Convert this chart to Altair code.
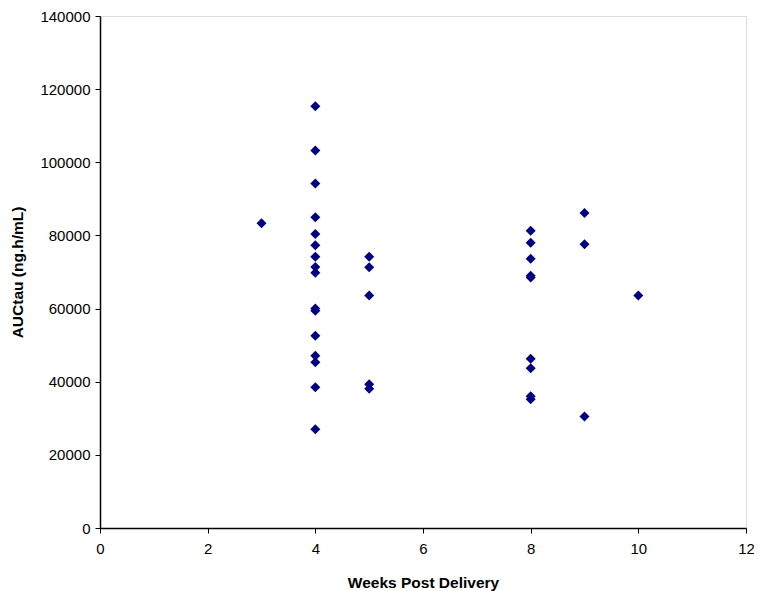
import altair as alt
import pandas as pd

weeks = [3,
         4, 4, 4, 4, 4, 4, 4, 4, 4, 4, 4, 4, 4, 4, 4, 4,
         5, 5, 5, 5, 5,
         8, 8, 8, 8, 8, 8, 8, 8, 8,
         9, 9, 9,
         10]
auc = [83300,
       115300, 103200, 94200, 85000, 80400, 77300, 74200, 71400, 69800, 60000, 59400, 52600, 47100, 45300, 38500, 27000,
       74200, 71300, 63600, 39300, 38100,
       81300, 78000, 73600, 69000, 68500, 46300, 43700, 36000, 35200,
       86100, 77600, 30500,
       63600]

df = pd.DataFrame({"weeks": weeks, "auc": auc})

font = "Liberation Sans"

chart = alt.Chart(df).mark_point(
    shape="diamond", filled=True, color="#000080", size=100, opacity=1
).encode(
    x=alt.X("weeks:Q", scale=alt.Scale(domain=[0, 12], nice=False, zero=True),
            axis=alt.Axis(title="Weeks Post Delivery", values=[0, 2, 4, 6, 8, 10, 12],
                          grid=False, domainColor="#000000", domainWidth=1.5,
                          tickColor="#000000", tickSize=5, tickWidth=1,
                          labelFlush=False,
                          labelFont=font, labelFontSize=15, labelColor="#000000",
                          labelPadding=8, titleFont=font, titleFontSize=15.5,
                          titleFontWeight="bold", titleColor="#000000", titlePadding=19)),
    y=alt.Y("auc:Q", scale=alt.Scale(domain=[0, 140000], nice=False),
            axis=alt.Axis(title="AUCtau (ng.h/mL)", values=list(range(0, 140001, 20000)),
                          format="d", grid=False, domainColor="#000000", domainWidth=1.5,
                          tickColor="#000000", tickSize=5, tickWidth=1,
                          labelFlush=False,
                          labelFont=font, labelFontSize=15, labelColor="#000000",
                          labelPadding=5, titleFont=font, titleFontSize=15.5,
                          titleFontWeight="bold", titleColor="#000000", titlePadding=14)),
).properties(
    width=646, height=512,
    autosize=alt.AutoSizeParams(type="none"),
    padding={"left": 92, "top": 8, "right": 8, "bottom": 63},
).configure_view(
    stroke="#808080", strokeWidth=2
).configure(background="#ffffff")

chart.save("out.html", embed_options={"renderer": "svg", "actions": False})
